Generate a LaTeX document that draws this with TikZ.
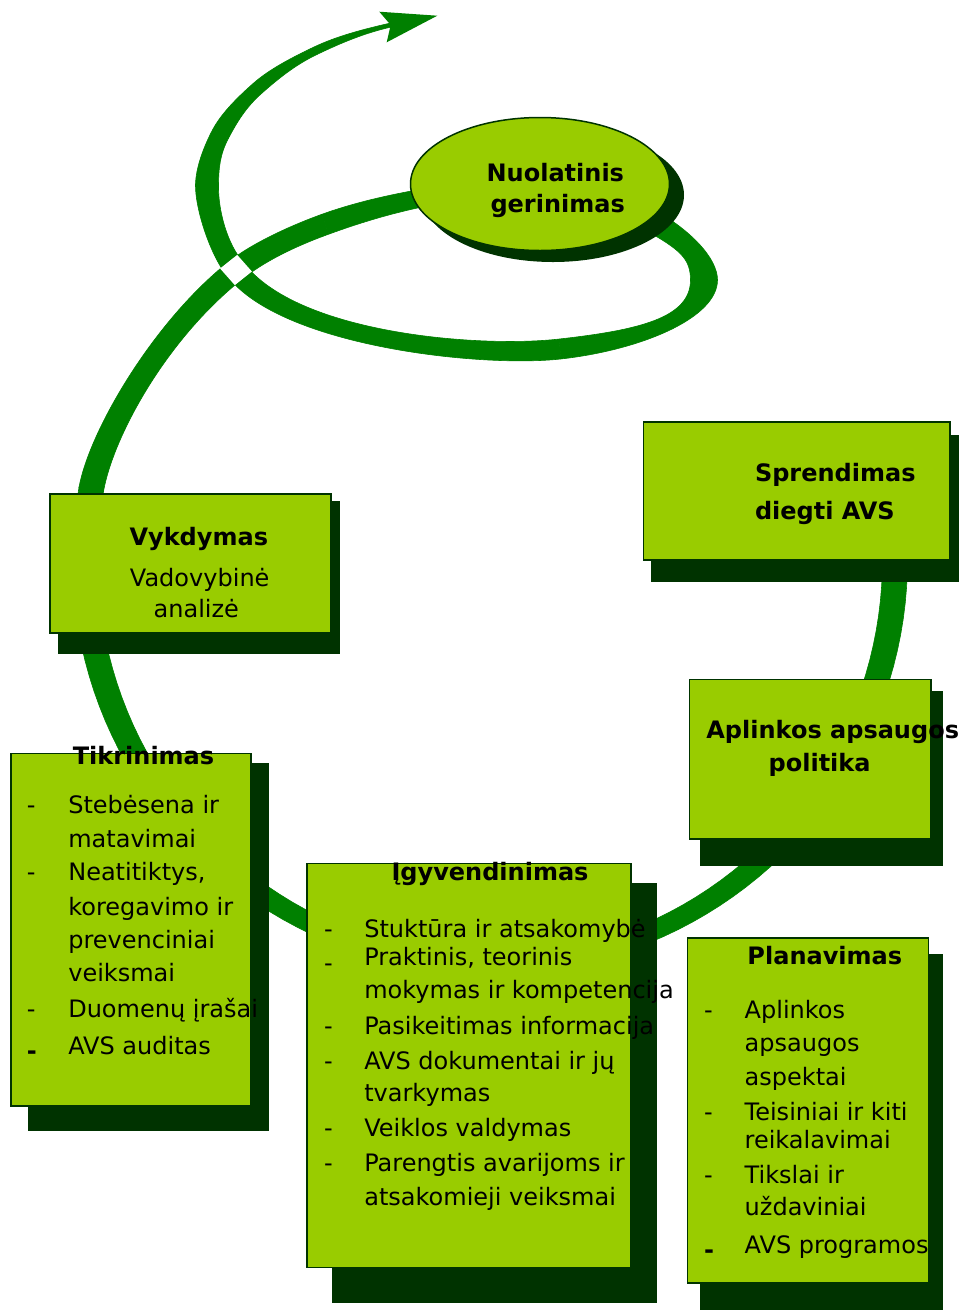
\documentclass[tikz,border=0pt]{standalone}
\usepackage{fontspec}
\setmainfont{DejaVu Sans}
\usetikzlibrary{shapes.geometric,calc}
\definecolor{ribbon}{HTML}{008000}
\definecolor{boxfill}{HTML}{99CC00}
\definecolor{shade}{HTML}{003300}
% tapered ribbon piece along the curve #1 .. controls #2 and #3 .. #4, half widths #5 -> #6
\newcommand{\ribseg}[6]{%
  \filldraw[ribbon, line width=0.6pt, line join=round]
    ($(#1)!#5!90:(#2)$) .. controls ($(#2)!#5!-90:(#1)$) and ($(#3)!#6!90:(#4)$) .. ($(#4)!#6!-90:(#3)$)
    -- ($(#4)!#6!90:(#3)$) .. controls ($(#3)!#6!-90:(#4)$) and ($(#2)!#5!90:(#1)$) .. ($(#1)!#5!-90:(#2)$) -- cycle;}
\begin{document}
\begin{tikzpicture}[x=1pt,y=-1pt,
  txt/.style={inner sep=0pt, outer sep=0pt, text=black, font=\fontsize{24}{28}\selectfont},
  ttl/.style={inner sep=0pt, outer sep=0pt, text=black, font=\fontsize{24}{28}\selectfont\bfseries},
  shadowbox/.style={fill=shade, draw=none, inner sep=0pt, anchor=north west},
  frontbox/.style={fill=boxfill, draw=shade, line width=1.5pt, inner sep=0pt, anchor=north west},
  dashmark/.style={txt, anchor=base west}]
\useasboundingbox (0,0) rectangle (961,1310);
\fill[white] (0,0) rectangle (961,1310);

% big circular ribbon (lower part)
\filldraw[ribbon, line width=0.6pt] plot[domain=-5:190.2, samples=90] ({490+(405+9+3.5*cos(\x)*cos(\x))*cos(\x)}, {560+(405+9+3.5*cos(\x)*cos(\x))*sin(\x)})
  -- plot[domain=190.2:-5, samples=90] ({490+(405-9-3.5*cos(\x)*cos(\x))*cos(\x)}, {560+(405-9-3.5*cos(\x)*cos(\x))*sin(\x)}) -- cycle;
% ascending strand to the ellipse
\ribseg{91.2,489.7}{101,434}{160,330}{236,270}{12.4pt}{11pt}
\ribseg{236,270}{255.65,254.5}{286.65,238.25}{325.24,224.25}{11pt}{10.5pt}
\ribseg{325.24,224.25}{363.825,210.25}{410,198.5}{460,192}{10.5pt}{8.5pt}
% loop from the ellipse up to the arrow
\ribseg{650,220}{685,240}{704,258}{704,280}{11pt}{13.5pt}
\ribseg{704,280}{704,318}{640,340}{560,349}{13.5pt}{10pt}
\ribseg{560,349}{480,358}{290,340}{236,270}{10pt}{10.5pt}
\ribseg{236,270}{219.3,251.4}{206.6,210}{207,185}{10.5pt}{11.5pt}
\ribseg{207,185}{207.25,167.5}{211.94,150.31}{220.56,133.98}{11.5pt}{9pt}
\ribseg{220.56,133.98}{229.19,117.66}{241.75,102.19}{257.75,88.125}{9pt}{6.5pt}
\ribseg{257.75,88.125}{273.75,74.06}{293.19,61.41}{315.56,50.70}{6.5pt}{4pt}
\ribseg{315.56,50.70}{337.94,40}{363.25,31.25}{391,25}{4pt}{2pt}
% white gap where the two strands cross
\fill[white] (237.2,254.9) -- (220.1,268.5) -- (234.8,285.1) -- (251.9,271.5) -- cycle;
% arrow head
\fill[ribbon] (379.3,11.7) -- (437.3,15.7) -- (386.7,42.3) -- (390.7,25) -- cycle;

% ellipse
\node[ellipse, fill=shade, draw=none, minimum width=262pt, minimum height=134pt, inner sep=0pt] (ellS) at (553,195) {};
\node[ellipse, fill=boxfill, draw=shade, line width=1.5pt, minimum width=259pt, minimum height=133pt, inner sep=0pt] (ellF) at (540,184) {};
\node[ttl, anchor=base] (ell1) at (555.3,181) {Nuolatinis};
\node[ttl, anchor=base] (ell2) at (557.7,212.3) {gerinimas};

% Sprendimas
\node[shadowbox, minimum width=307.3pt, minimum height=146.7pt] (sprS) at (651,435) {};
\node[frontbox, minimum width=306.6pt, minimum height=138pt] (sprF) at (642.7,421) {};
\node[ttl, anchor=base west] (spr1) at (755,481.7) {Sprendimas};
\node[ttl, anchor=base west] (spr2) at (755,519.3) {diegti AVS};

% Aplinkos apsaugos politika
\node[shadowbox, minimum width=242.7pt, minimum height=175pt] (polS) at (700,691) {};
\node[frontbox, minimum width=241.8pt, minimum height=159.6pt] (polF) at (688.5,678.7) {};
\node[ttl, anchor=base] (pol1) at (832.7,738) {Aplinkos apsaugos};
\node[ttl, anchor=base] (pol2) at (819.6,771) {politika};

% Planavimas
\node[shadowbox, minimum width=242.7pt, minimum height=356pt] (plaS) at (700,954) {};
\node[frontbox, minimum width=240.8pt, minimum height=345pt] (plaF) at (686.8,937) {};
\node[ttl, anchor=base] (plaT) at (824.8,964.7) {Planavimas};
\node[dashmark] (plaD1) at (704,1018.6) {-};
\node[dashmark] (plaD2) at (704,1120.2) {-};
\node[dashmark] (plaD3) at (704,1183.2) {-};
\node[dashmark, font=\fontsize{24}{28}\selectfont\bfseries] (plaD4) at (704,1258.7) {-};
\node[txt, anchor=base west] (pla1) at (744.7,1018.6) {Aplinkos};
\node[txt, anchor=base west] (pla2) at (744.7,1051.8) {apsaugos};
\node[txt, anchor=base west] (pla3) at (744.7,1085.8) {aspektai};
\node[txt, anchor=base west] (pla4) at (744.7,1120.2) {Teisiniai ir kiti};
\node[txt, anchor=base west] (pla5) at (744.7,1148.4) {reikalavimai};
\node[txt, anchor=base west] (pla6) at (744.7,1183.2) {Tikslai ir};
\node[txt, anchor=base west] (pla7) at (744.7,1215.6) {uždaviniai};
\node[txt, anchor=base west] (pla8) at (744.7,1253.7) {AVS programos};

% Igyvendinimas
\node[shadowbox, minimum width=325pt, minimum height=420pt] (igyS) at (331.7,882.3) {};
\node[frontbox, minimum width=324pt, minimum height=404pt] (igyF) at (306,862.7) {};
\node[ttl, anchor=base] (igyT) at (490,880.7) {Įgyvendinimas};
\node[dashmark] (igyD1) at (324,937.3) {-};
\node[dashmark] (igyD2) at (324,971) {-};
\node[dashmark] (igyD3) at (324,1034) {-};
\node[dashmark] (igyD4) at (324,1069) {-};
\node[dashmark] (igyD5) at (324,1136.7) {-};
\node[dashmark] (igyD6) at (324,1171.7) {-};
\node[txt, anchor=base west] (igy1) at (364.3,937.3) {Stuktūra ir atsakomybė};
\node[txt, anchor=base west] (igy2) at (364.3,965) {Praktinis, teorinis};
\node[txt, anchor=base west] (igy3) at (364.3,998.3) {mokymas ir kompetencija};
\node[txt, anchor=base west] (igy4) at (364.3,1034) {Pasikeitimas informacija};
\node[txt, anchor=base west] (igy5) at (364.3,1069) {AVS dokumentai ir jų};
\node[txt, anchor=base west] (igy6) at (364.3,1101.7) {tvarkymas};
\node[txt, anchor=base west] (igy7) at (364.3,1136.7) {Veiklos valdymas};
\node[txt, anchor=base west] (igy8) at (364.3,1171.7) {Parengtis avarijoms ir};
\node[txt, anchor=base west] (igy9) at (364.3,1205) {atsakomieji veiksmai};

% Tikrinimas
\node[shadowbox, minimum width=241pt, minimum height=368pt] (tikS) at (27.7,762.7) {};
\node[frontbox, minimum width=240pt, minimum height=352.3pt] (tikF) at (10,752.7) {};
\node[ttl, anchor=base] (tikT) at (143.5,764.3) {Tikrinimas};
\node[dashmark] (tikD1) at (27,813.3) {-};
\node[dashmark] (tikD2) at (27,880.7) {-};
\node[dashmark] (tikD3) at (27,1017.7) {-};
\node[dashmark, font=\fontsize{24}{28}\selectfont\bfseries] (tikD4) at (27,1059) {-};
\node[txt, anchor=base west] (tik1) at (68.3,813.3) {Stebėsena ir};
\node[txt, anchor=base west] (tik2) at (68.3,847.3) {matavimai};
\node[txt, anchor=base west] (tik3) at (68.3,880.7) {Neatitiktys,};
\node[txt, anchor=base west] (tik4) at (68.3,915.7) {koregavimo ir};
\node[txt, anchor=base west] (tik5) at (68.3,948.3) {prevenciniai};
\node[txt, anchor=base west] (tik6) at (68.3,981.7) {veiksmai};
\node[txt, anchor=base west] (tik7) at (68.3,1017.7) {Duomenų įrašai};
\node[txt, anchor=base west] (tik8) at (68.3,1054) {AVS auditas};

% Vykdymas
\node[shadowbox, minimum width=282pt, minimum height=152.6pt] (vykS) at (57.3,500.7) {};
\node[frontbox, minimum width=280.7pt, minimum height=139pt] (vykF) at (49.3,493.3) {};
\node[ttl, anchor=base] (vykT) at (198.8,545) {Vykdymas};
\node[txt, anchor=base] (vyk1) at (199.7,586.7) {Vadovybinė};
\node[txt, anchor=base] (vyk2) at (196.3,617.3) {analizė};
\end{tikzpicture}
\end{document}
